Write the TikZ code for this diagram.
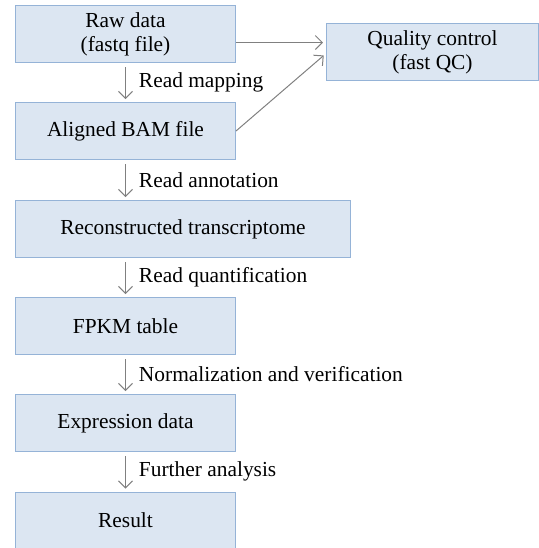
\documentclass[tikz,border=0pt]{standalone}
\usepackage{fontspec}
\setmainfont{Liberation Serif}
\usetikzlibrary{arrows.meta,positioning}
\definecolor{boxfill}{RGB}{220,230,242}
\definecolor{boxline}{RGB}{149,179,215}
\definecolor{flowgray}{RGB}{128,128,128}

\begin{document}
\begin{tikzpicture}[
    stage/.style={draw=boxline,fill=boxfill,line width=0.5pt,minimum height=28.5pt,
      inner sep=0pt,align=center,anchor=north west,font=\fontsize{10.7}{12}\selectfont},
    flow/.style={draw=flowgray,line width=0.5pt,-{Straight Barb[length=3.5pt,width=7pt]}},
    lbl/.style={right,inner sep=0pt,xshift=6.5pt,font=\fontsize{10.7}{12}\selectfont}]
  \useasboundingbox (0,0) rectangle (269.5pt,-274pt);
    \foreach \n/\p/\w/\t in {
      raw/{(7.5pt,-2.5pt)}/110pt/{Raw data\\(fastq file)},
      bam/{(7.5pt,-51pt)}/110pt/Aligned BAM file,
      trans/{(7.5pt,-100pt)}/167.5pt/Reconstructed transcriptome,
      fpkm/{(7.5pt,-148.5pt)}/110pt/FPKM table,
      expr/{(7.5pt,-197pt)}/110pt/Expression data,
      res/{(7.5pt,-245.75pt)}/110pt/Result}
    {
      \node[stage,minimum width=\w] (\n) at \p {\t};
    }
    \node[stage,minimum width=106pt] (qc) at (163pt,-11.5pt) {Quality control\\(fast QC)};
    \foreach \a/\b/\t in {
      raw/bam/Read mapping,
      bam/trans/Read annotation,
      trans/fpkm/Read quantification,
      fpkm/expr/Normalization and verification,
      expr/res/Further analysis}
    {
      \draw[flow,shorten <=2pt,shorten >=1.5pt] (raw.south |- \a.south) -- node[lbl,midway] {\t} (raw.south |- \b.north);
    }
    \coordinate (rawout) at ([yshift=-4.25pt]raw.east);
    \coordinate (qcin) at ([yshift=-0.75pt]qc.west);
    \draw[flow,shorten >=1.5pt] (rawout) -- (rawout -| qc.west);
    \draw[flow,shorten >=1.5pt] (bam.east) -- (qcin);
  \end{tikzpicture}
\end{document}
